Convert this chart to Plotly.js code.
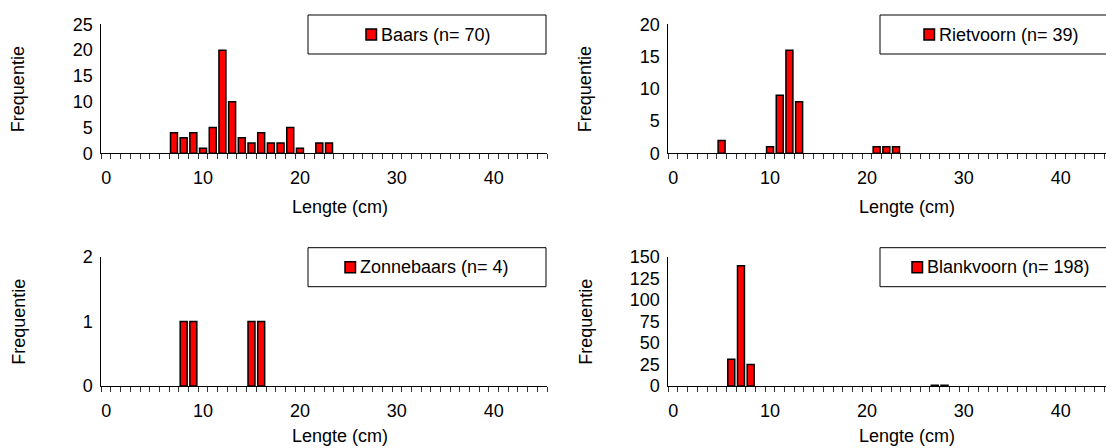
<!DOCTYPE html>
<html><head><meta charset="utf-8">
<script src="https://cdn.plot.ly/plotly-3.0.1.min.js"></script>
<style>html,body{margin:0;padding:0;overflow:hidden;background:#fff}#chart{width:1106px;height:448px}</style>
</head><body><div id="chart"></div>
<script>
// ---- data ----
const baarsLengte = [7,8,9,10,11,12,13,14,15,16,17,18,19,20,22,23];
const baarsAantal = [4,3,4,1,5,20,10,3,2,4,2,2,5,1,2,2];
const rietvoornLengte = [5,10,11,12,13,21,22,23];
const rietvoornAantal = [2,1,9,16,8,1,1,1];
const zonnebaarsLengte = [8,9,15,16];
const zonnebaarsAantal = [1,1,1,1];
const blankvoornLengte = [6,7,8,27,28];
const blankvoornAantal = [31,140,25,1,1];

const legendNames = ["Baars (n= 70)","Rietvoorn (n= 39)","Zonnebaars (n= 4)","Blankvoorn (n= 198)"];
const xTickVals = [0,10,20,30,40];
const xTickText = ["0","10","20","30","40"];
const yTicksBaars = [0,5,10,15,20,25];
const yTicksRietvoorn = [0,5,10,15,20];
const yTicksZonnebaars = [0,1,2];
const yTicksBlankvoorn = [0,25,50,75,100,125,150];
const xTitle = "Lengte (cm)";
const yTitle = "Frequentie";

// ---- layout helpers ----
const W = 1106, H = 448;
const FONT = "Liberation Sans, Arial, sans-serif";
const FS = 18;
const px = v => v / W;
const py = v => 1 - v / H;
const unit = 9.69;
const panels = [
  {xl:101.3, top:24.4, bottom:153.3, xs:[baarsLengte,baarsAantal], yt:yTicksBaars, leg:308, mk:58},
  {xl:668.3, top:24.4, bottom:153.3, xs:[rietvoornLengte,rietvoornAantal], yt:yTicksRietvoorn, leg:880, mk:44},
  {xl:101.3, top:257.1, bottom:386, xs:[zonnebaarsLengte,zonnebaarsAantal], yt:yTicksZonnebaars, leg:308, mk:37},
  {xl:668.3, top:257.1, bottom:386, xs:[blankvoornLengte,blankvoornAantal], yt:yTicksBlankvoorn, leg:880, mk:32}
];

const data = [], shapes = [], annotations = [];
const layout = {
  width: W, height: H, margin:{l:0,r:0,t:0,b:0},
  paper_bgcolor:'#fff', plot_bgcolor:'rgba(0,0,0,0)',
  showlegend:false, bargap:0,
  font:{family:FONT, size:FS, color:'#000'}
};

panels.forEach((p, i) => {
  const n = i === 0 ? '' : String(i+1);
  const xr = Math.min(W, p.xl + 46*unit);
  const xEnd = -0.5 + (xr - p.xl)/unit;
  data.push({
    type:'bar', x:p.xs[0], y:p.xs[1], width:0.72,
    xaxis:'x'+n, yaxis:'y'+n, name:legendNames[i],
    marker:{color:'#ff0000', line:{color:'#000', width:1.5}},
    hoverinfo:'x+y'
  });
  layout['xaxis'+n] = {
    domain:[px(p.xl), px(xr)], range:[-0.5, xEnd], anchor:'y'+n,
    showline:true, linecolor:'#000', linewidth:1,
    ticks:'', tickmode:'array', tickvals:xTickVals, ticktext:xTickText,
    ticklabelstandoff:8,
    minor:{tickmode:'linear', tick0:-0.5, dtick:1, ticks:'outside', ticklen:5, tickcolor:'#333', tickwidth:1, showgrid:false},
    showgrid:false, zeroline:false, fixedrange:true,
    tickfont:{family:FONT, size:FS, color:'#000'}
  };
  const ymax = p.yt[p.yt.length-1];
  layout['yaxis'+n] = {
    domain:[py(p.bottom), py(p.top)], range:[0, ymax], anchor:'x'+n,
    showline:true, linecolor:'#000', linewidth:1,
    ticks:'', tickmode:'array', tickvals:p.yt, ticklabelstandoff:4,
    showgrid:false, zeroline:false, fixedrange:true,
    tickfont:{family:FONT, size:FS, color:'#000'}
  };
  // axis titles
  const ty = Math.min(p.bottom + 54, H - 12);
  annotations.push({xref:'paper', yref:'paper', x:px(p.xl + 239), y:py(ty),
    text:xTitle, showarrow:false, xanchor:'center', yanchor:'middle',
    font:{family:FONT, size:FS, color:'#000'}});
  annotations.push({xref:'paper', yref:'paper', x:px(p.xl - 83), y:py((p.top+p.bottom)/2),
    text:yTitle, showarrow:false, textangle:-90, xanchor:'center', yanchor:'middle',
    font:{family:FONT, size:FS, color:'#000'}});
  // legend box
  const lt = p.top - 9.4, lb = p.top + 29.6;
  shapes.push({type:'rect', xref:'paper', yref:'paper', x0:px(p.leg), x1:px(p.leg+238), y0:py(lb), y1:py(lt),
    line:{color:'#000', width:1}, fillcolor:'#fff', layer:'above'});
  const cy = (lt+lb)/2;
  shapes.push({type:'rect', xref:'paper', yref:'paper', x0:px(p.leg+p.mk), x1:px(p.leg+p.mk+10.5), y0:py(cy+5.5), y1:py(cy-5.5),
    line:{color:'#000', width:1.5}, fillcolor:'#ff0000', layer:'above'});
  annotations.push({xref:'paper', yref:'paper', x:px(p.leg+p.mk+13), y:py(cy),
    text:legendNames[i], showarrow:false, xanchor:'left', yanchor:'middle',
    font:{family:FONT, size:FS, color:'#000'}});
});
layout.shapes = shapes;
layout.annotations = annotations;

Plotly.newPlot('chart', data, layout, {displayModeBar:false, staticPlot:true});
</script></body></html>
